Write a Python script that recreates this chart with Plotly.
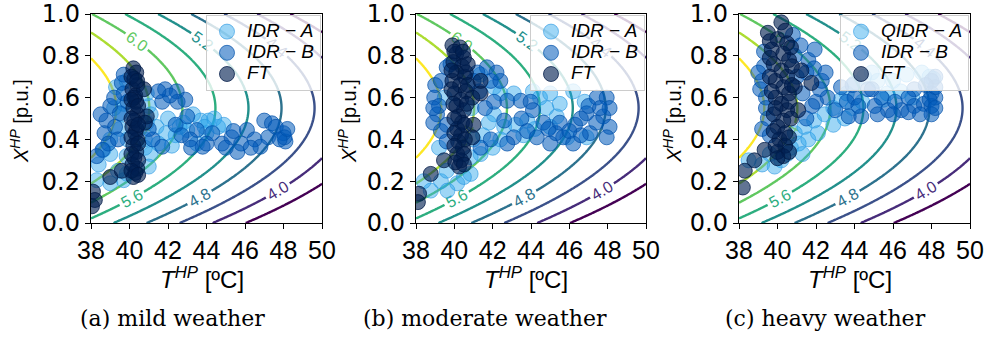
import numpy as np
import plotly.graph_objects as go

# ---------------- data ----------------
T_TICKS = [38, 40, 42, 44, 46, 48, 50]
X_TICKS = [0.0, 0.2, 0.4, 0.6, 0.8, 1.0]
COP_LEVELS = [3.6, 4.0, 4.4, 4.8, 5.2, 5.6, 6.0, 6.4, 6.8]
CAPTIONS = ["(a) mild weather", "(b) moderate weather", "(c) heavy weather"]
NAMES_1 = ["IDR − A", "IDR − B", "FT"]
NAMES_3 = ["QIDR − A", "IDR − B", "FT"]

# COP model (heat pump): COP = C0 - CT*T - CX*(X - XS)^2
COP_C0 = 15.96
COP_CT = 0.233
COP_CX = 5.4
COP_XS = 0.55

# (a) mild weather
mild_a_T = [39.85, 39.3, 39.7, 41.0, 41.1, 41.4, 41.9, 42.4, 43.0, 43.7, 44.0, 41.1, 41.0, 39.85, 39.0,
            38.65, 39.0, 39.7, 38.3, 44.1, 44.6, 42.8, 43.3, 40.9, 39.5, 39.9, 42.0, 43.5, 44.4, 39.86, 39.0,
            41.5, 42.6, 40.8, 39.4, 40.9, 40.8, 42.2, 44.9, 43.9, 39.6, 39.2, 38.4]
mild_a_X = [0.68, 0.65, 0.57, 0.56, 0.52, 0.46, 0.43, 0.42, 0.445, 0.49, 0.43, 0.33, 0.27, 0.32, 0.40,
            0.35, 0.19, 0.205, 0.205, 0.49, 0.46, 0.48, 0.52, 0.62, 0.45, 0.40, 0.50, 0.38, 0.50, 0.236, 0.33,
            0.38, 0.46, 0.40, 0.25, 0.48, 0.36, 0.37, 0.47, 0.46, 0.52, 0.55, 0.28]
mild_b_T = [39.6, 39.7, 39.0, 38.8, 38.7, 39.25, 39.5, 39.2, 38.9, 38.6, 41.85, 42.45, 42.5, 41.7, 42.1,
            41.2, 41.7, 41.0, 42.4, 43.0, 43.5, 43.8, 43.15, 42.7, 44.3, 44.8, 45.3, 45.8, 46.1, 46.5,
            47.0, 47.4, 47.2, 48.0, 48.1, 46.8, 45.6, 45.0, 47.6, 48.05, 38.3, 39.9, 39.4, 38.5, 39.7,
            42.9, 41.5, 44.0, 46.3, 47.8, 48.2, 45.4, 43.2]
mild_b_X = [0.67, 0.62, 0.56, 0.49, 0.43, 0.46, 0.525, 0.60, 0.38, 0.35, 0.64, 0.63, 0.58, 0.58, 0.61,
            0.40, 0.365, 0.45, 0.47, 0.51, 0.445, 0.365, 0.40, 0.42, 0.43, 0.38, 0.41, 0.38, 0.445, 0.40,
            0.49, 0.477, 0.41, 0.43, 0.39, 0.365, 0.34, 0.36, 0.46, 0.41, 0.32, 0.58, 0.40, 0.52, 0.71,
            0.59, 0.63, 0.38, 0.36, 0.40, 0.45, 0.44, 0.36]
mild_f_T = [40.2, 40.35, 40.25, 40.4, 40.15, 40.3, 40.35, 40.2, 40.4, 40.25, 40.15, 40.3, 40.4, 40.2, 40.35,
            40.25, 40.15, 40.4, 40.3, 40.2, 40.35, 40.25, 40.75, 40.9, 40.8, 39.0, 39.6, 38.1, 38.2, 38.05,
            40.1, 40.4, 40.1, 40.45, 40.1, 40.45, 40.1, 40.45, 40.1, 40.45, 40.1, 40.45]
mild_f_X = [0.74, 0.72, 0.69, 0.66, 0.64, 0.61, 0.58, 0.55, 0.52, 0.49, 0.46, 0.43, 0.40, 0.37, 0.34,
            0.31, 0.28, 0.26, 0.24, 0.22, 0.45, 0.60, 0.64, 0.51, 0.48, 0.22, 0.25, 0.15, 0.11, 0.08,
            0.70, 0.68, 0.59, 0.56, 0.50, 0.47, 0.41, 0.38, 0.33, 0.30, 0.25, 0.23]

# (b) moderate weather
mod_a_T = [42.4, 43.1, 42.07, 42.6, 43.2, 43.8, 41.37, 40.85, 40.85, 39.3, 38.77, 39.64, 40.15, 39.5,
           41.37, 42.07, 44.47, 45.0, 45.5, 45.34, 44.8, 46.9, 45.9, 41.5, 42.0, 39.2, 38.4, 44.2,
           41.8, 42.4, 43.6, 41.0, 40.9, 39.6, 40.5, 44.1, 46.2, 46.8, 45.0]
mod_a_X = [0.62, 0.62, 0.52, 0.46, 0.47, 0.49, 0.33, 0.315, 0.235, 0.20, 0.155, 0.155, 0.19, 0.60,
           0.71, 0.65, 0.60, 0.62, 0.57, 0.51, 0.55, 0.41, 0.41, 0.42, 0.36, 0.36, 0.20, 0.45,
           0.48, 0.40, 0.42, 0.40, 0.55, 0.25, 0.22, 0.63, 0.63, 0.58, 0.46]
mod_b_T = [39.3, 38.95, 39.1, 39.3, 39.6, 39.6, 39.2, 38.9, 41.7, 41.9, 42.4, 41.2, 42.07, 42.76, 43.46,
           43.98, 42.6, 43.1, 42.76, 41.37, 41.9, 43.8, 41.6, 44.1, 44.64, 44.3, 45.0, 45.68, 46.2, 46.3,
           46.9, 47.43, 47.95, 47.77, 48.1, 47.95, 47.08, 47.0, 48.1, 45.3, 46.6, 39.8, 39.0, 38.9, 39.6,
           41.3, 41.0, 42.2, 43.5, 44.9, 45.5, 46.0, 46.6, 47.4, 47.6]
mod_b_X = [0.68, 0.60, 0.52, 0.44, 0.39, 0.745, 0.56, 0.48, 0.745, 0.68, 0.68, 0.72, 0.58, 0.585, 0.585,
           0.58, 0.49, 0.41, 0.38, 0.36, 0.40, 0.44, 0.55, 0.54, 0.48, 0.41, 0.38, 0.41, 0.38, 0.47,
           0.525, 0.60, 0.60, 0.51, 0.46, 0.41, 0.43, 0.56, 0.55, 0.43, 0.42, 0.76, 0.66, 0.55, 0.47,
           0.63, 0.68, 0.72, 0.50, 0.45, 0.48, 0.44, 0.50, 0.48, 0.55]
mod_f_T = [39.9, 40.3, 40.1, 40.5, 39.95, 40.4, 40.1, 40.55, 39.9, 40.3, 40.6, 40.0, 40.35, 40.1, 40.5,
           40.2, 40.4, 40.15, 40.35, 40.2, 40.45, 40.15, 40.35, 40.25, 39.95, 40.6, 40.94, 41.37, 41.37,
           41.0, 40.94, 39.46, 38.77, 38.16, 38.1, 40.0, 40.45, 40.7, 39.85, 40.7, 39.85, 40.65, 40.0,
           40.55, 40.0, 40.55, 40.0, 40.5, 40.05, 40.5]
mod_f_X = [0.85, 0.84, 0.81, 0.79, 0.77, 0.75, 0.72, 0.70, 0.68, 0.66, 0.63, 0.62, 0.59, 0.56, 0.54,
           0.51, 0.48, 0.45, 0.42, 0.39, 0.36, 0.33, 0.30, 0.27, 0.57, 0.72, 0.60, 0.62, 0.68,
           0.47, 0.41, 0.30, 0.235, 0.14, 0.10, 0.82, 0.82, 0.76, 0.73, 0.66, 0.64, 0.57, 0.50,
           0.47, 0.43, 0.40, 0.37, 0.33, 0.29, 0.28]

# (c) heavy weather
hvy_a_T = [40.9, 41.4, 41.9, 42.45, 40.2, 39.85, 40.7, 44.0, 45.7, 44.9, 47.5, 47.9, 43.3, 42.9, 43.6,
           46.4, 48.1, 41.1, 39.6, 44.4, 47.0, 41.6, 42.1, 42.9, 43.5, 40.5, 41.3, 43.9, 44.5, 45.2,
           46.0, 46.7, 45.5, 38.5, 39.2]
hvy_a_X = [0.43, 0.46, 0.49, 0.52, 0.30, 0.27, 0.36, 0.67, 0.62, 0.72, 0.72, 0.70, 0.59, 0.55, 0.62,
           0.63, 0.69, 0.38, 0.33, 0.58, 0.60, 0.40, 0.43, 0.47, 0.50, 0.33, 0.33, 0.55, 0.70, 0.68,
           0.68, 0.71, 0.59, 0.30, 0.28]
hvy_b_T = [39.3, 39.2, 39.4, 39.5, 39.3, 39.4, 40.8, 41.2, 41.6, 41.93, 40.9, 42.6, 43.3, 44.0, 44.7,
           45.05, 45.74, 46.43, 47.1, 47.6, 48.0, 48.0, 48.0, 48.0, 47.1, 43.0, 43.7, 44.35, 42.3, 42.0,
           45.4, 46.1, 48.2, 48.2, 47.9, 46.8, 41.3, 41.5, 39.0, 39.1, 39.2, 39.6, 41.0, 41.5, 41.9,
           42.5, 42.2, 41.8, 43.6, 44.2, 45.2, 46.0, 46.8, 47.4, 48.2, 48.2, 47.7, 44.9, 43.9]
hvy_b_X = [0.75, 0.68, 0.60, 0.50, 0.82, 0.55, 0.90, 0.85, 0.78, 0.83, 0.80, 0.60, 0.65, 0.60, 0.64,
           0.56, 0.54, 0.54, 0.56, 0.57, 0.68, 0.62, 0.56, 0.52, 0.64, 0.54, 0.51, 0.51, 0.68, 0.58,
           0.60, 0.58, 0.60, 0.65, 0.59, 0.60, 0.62, 0.50, 0.72, 0.64, 0.45, 0.42, 0.70, 0.72, 0.74,
           0.72, 0.64, 0.56, 0.58, 0.56, 0.52, 0.52, 0.53, 0.52, 0.55, 0.70, 0.66, 0.64, 0.66]
hvy_f_T = [40.2, 39.5, 40.0, 40.5, 39.7, 40.3, 40.6, 39.8, 40.2, 40.5, 39.9, 40.3, 40.6, 39.9, 40.2,
           40.5, 39.8, 40.3, 40.0, 40.4, 40.1, 40.4, 40.0, 40.3, 40.6, 41.24, 41.76, 41.07, 39.33, 38.8,
           38.3, 38.2, 40.9, 39.6, 40.4, 40.7, 39.6, 40.75, 39.6, 40.75, 39.7, 40.7, 39.9, 39.8, 40.6,
           39.9, 40.6, 40.0]
hvy_f_X = [0.96, 0.91, 0.88, 0.86, 0.83, 0.81, 0.78, 0.76, 0.73, 0.70, 0.68, 0.65, 0.62, 0.60, 0.57,
           0.54, 0.52, 0.49, 0.46, 0.43, 0.40, 0.37, 0.34, 0.32, 0.58, 0.73, 0.67, 0.54, 0.35, 0.30,
           0.25, 0.17, 0.65, 0.87, 0.92, 0.84, 0.79, 0.75, 0.70, 0.66, 0.63, 0.50, 0.55, 0.44, 0.41,
           0.37, 0.34, 0.31]

# ---------------- styling ----------------
W, H = 985, 337
PLOT_X = [(91, 322), (416, 646), (739, 970)]
PLOT_Y = (14, 223)
YTITLE_X = [19, 347, 672]
CAPTION_X = [172, 485, 825]
COL_A = "rgba(40,165,235,0.45)"
COL_A_LINE = "rgba(40,150,225,0.6)"
COL_B = "rgba(0,90,185,0.55)"
COL_B_LINE = "rgba(0,80,170,0.7)"
COL_F = "rgba(0,30,80,0.62)"
COL_F_LINE = "rgba(0,25,70,0.75)"
SANS = "Liberation Sans, Arial, sans-serif"
XTICK_FONT = "Liberation Sans Narrow, Liberation Sans, Arial, sans-serif"
YTICK_FONT = "DejaVu Sans, sans-serif"
SERIF = "DejaVu Serif, serif"

panels = [
    (NAMES_1, (mild_a_T, mild_a_X), (mild_b_T, mild_b_X), (mild_f_T, mild_f_X)),
    (NAMES_1, (mod_a_T, mod_a_X), (mod_b_T, mod_b_X), (mod_f_T, mod_f_X)),
    (NAMES_3, (hvy_a_T, hvy_a_X), (hvy_b_T, hvy_b_X), (hvy_f_T, hvy_f_X)),
]

# contour field
tg = np.linspace(38, 50, 241)
xg = np.linspace(0, 1, 201)
TT, XX = np.meshgrid(tg, xg)
ZZ = COP_C0 - COP_CT * TT - COP_CX * (XX - COP_XS) ** 2

fig = go.Figure()
layout = dict(width=W, height=H, margin=dict(l=0, r=0, t=0, b=0, autoexpand=False),
              plot_bgcolor="white", paper_bgcolor="white", showlegend=True)
annotations = []

for i, (names, sa, sb, sf) in enumerate(panels):
    k = "" if i == 0 else str(i + 1)
    xa, ya = "x" + k, "y" + k
    leg = "legend" + k
    fig.add_trace(go.Contour(
        x=tg, y=xg, z=ZZ, xaxis=xa, yaxis=ya, showscale=False, hoverinfo="skip",
        colorscale="Viridis", zmin=3.2, zmax=7.2,
        contours=dict(start=COP_LEVELS[0], end=COP_LEVELS[-1], size=0.4, coloring="lines",
                      showlabels=True, labelformat=".1f",
                      labelfont=dict(size=16, family=SANS)),
        line=dict(width=2.4), showlegend=False))
    for (tv, xv), nm, fc, lc in [(sa, names[0], COL_A, COL_A_LINE),
                                 (sb, names[1], COL_B, COL_B_LINE),
                                 (sf, names[2], COL_F, COL_F_LINE)]:
        fig.add_trace(go.Scatter(
            x=tv, y=xv, mode="markers",
            name='<span style="font-size:19px"><i>' + nm + "</i></span>",
            xaxis=xa, yaxis=ya, legend=leg,
            marker=dict(size=15, color=fc, line=dict(color=lc, width=1))))
    x0, x1 = PLOT_X[i]
    dom_x = [x0 / W, x1 / W]
    dom_y = [1 - PLOT_Y[1] / H, 1 - PLOT_Y[0] / H]
    axcommon = dict(showline=True, mirror=True, linecolor="black", linewidth=1.4,
                    ticks="outside", ticklen=5, tickwidth=1.4, tickcolor="black",
                    showgrid=False, zeroline=False, automargin=False)
    layout["xaxis" + k] = dict(domain=dom_x, range=[38, 50], tickvals=T_TICKS, anchor=ya,
                               tickfont=dict(family=XTICK_FONT, size=25, color="black"),
                               **axcommon)
    layout["yaxis" + k] = dict(domain=dom_y, range=[0, 1], tickvals=X_TICKS,
                               tickformat=".1f", anchor=xa,
                               tickfont=dict(family=YTICK_FONT, size=24, color="black"),
                               **axcommon)
    layout[leg] = dict(x=dom_x[1] - 1 / W, y=dom_y[1] - 1 / H, xanchor="right", yanchor="top",
                       bgcolor="rgba(255,255,255,0.8)", bordercolor="#cccccc", borderwidth=1,
                       font=dict(family=SANS, size=14, color="black"),
                       itemwidth=30, tracegroupgap=0)
    cx = (x0 + x1) / 2
    annotations.append(dict(text="<i>T</i><sup><i>HP</i></sup> [ºC]", x=(cx - 5) / W, y=1 - 278 / H,
                            xref="paper", yref="paper", xanchor="center", yanchor="middle",
                            showarrow=False, font=dict(family=SANS, size=24, color="black")))
    annotations.append(dict(text="<i>X</i><sup><i>HP</i></sup> [p.u.]", x=YTITLE_X[i] / W,
                            y=1 - 121 / H, xref="paper", yref="paper", xanchor="center",
                            yanchor="middle", showarrow=False, textangle=-90,
                            font=dict(family=SANS, size=20, color="black")))
    annotations.append(dict(text=CAPTIONS[i], x=CAPTION_X[i] / W, y=1 - 318 / H,
                            xref="paper", yref="paper", xanchor="center", yanchor="middle",
                            showarrow=False, font=dict(family=SERIF, size=22, color="black")))

layout["annotations"] = annotations
fig.update_layout(**layout)
fig.write_html("out.html")
